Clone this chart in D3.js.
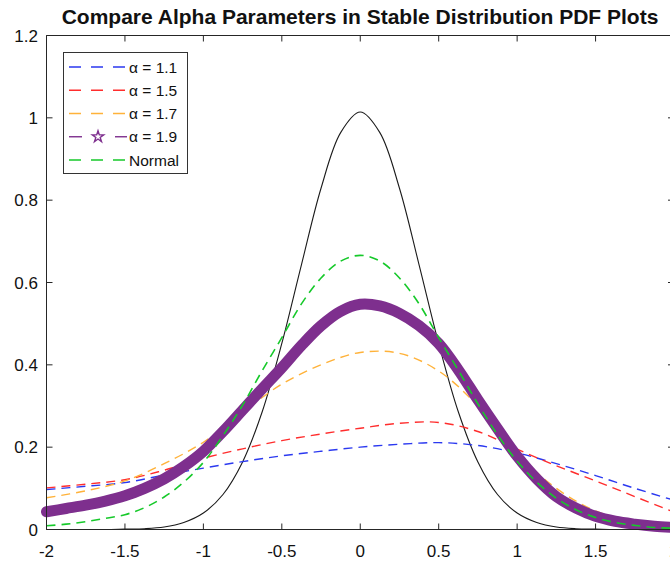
<!DOCTYPE html>
<html>
<head>
<meta charset="utf-8">
<script src="https://cdn.jsdelivr.net/npm/d3@7.9.0/dist/d3.min.js"></script>
<style>
  body { margin: 0; background: #fff; }
  svg { display: block; font-family: "Liberation Sans", Arial, sans-serif; }
</style>
</head>
<body>
<svg id="chart" width="670" height="563"></svg>
<script>
// coarse grid for the flat dashed curves, fine grid for the peaked ones
const xs = [-2, -1.75, -1.5, -1.25, -1, -0.75, -0.5, -0.25, 0, 0.25, 0.5, 0.75, 1, 1.25, 1.5, 1.75, 2];
const xsFine = [-2, -1.875, -1.75, -1.625, -1.5, -1.375, -1.25, -1.125, -1, -0.875, -0.75, -0.625, -0.5, -0.375, -0.25, -0.125,
  0, 0.125, 0.25, 0.375, 0.5, 0.625, 0.75, 0.875, 1, 1.125, 1.25, 1.375, 1.5, 1.625, 1.75, 1.875, 2];

const alpha11 = [0.097, 0.105, 0.114, 0.132, 0.149, 0.165, 0.179, 0.190, 0.200, 0.207, 0.211, 0.204, 0.186, 0.160, 0.131, 0.100, 0.071];
const alpha15 = [0.101, 0.110, 0.121, 0.144, 0.173, 0.196, 0.216, 0.232, 0.246, 0.258, 0.260, 0.238, 0.195, 0.155, 0.118, 0.080, 0.042];
const alpha17 = [0.077, 0.094, 0.118, 0.160, 0.212, 0.285, 0.353, 0.400, 0.430, 0.428, 0.385, 0.300, 0.185, 0.100, 0.045, 0.018, 0.006];
const alpha19 = [0.043, 0.051, 0.059, 0.069, 0.082, 0.100, 0.123, 0.153, 0.190, 0.238, 0.290, 0.342, 0.393, 0.447, 0.495, 0.530,
  0.547, 0.543, 0.525, 0.495, 0.452, 0.388, 0.315, 0.245, 0.178, 0.123, 0.080, 0.052, 0.032, 0.020, 0.013, 0.008, 0.005];
const normal = [0.009, 0.013, 0.019, 0.027, 0.036, 0.053, 0.079, 0.115, 0.163, 0.228, 0.302, 0.386, 0.466, 0.548, 0.611, 0.652,
  0.666, 0.652, 0.611, 0.548, 0.466, 0.387, 0.305, 0.230, 0.166, 0.115, 0.076, 0.048, 0.029, 0.017, 0.010, 0.005, 0.003];
const stdNormalRef = [0, 0, 0, 0, 0.001, 0.002, 0.006, 0.017, 0.040, 0.085, 0.164, 0.286, 0.452, 0.643, 0.829, 0.964,
  1.014, 0.964, 0.829, 0.643, 0.452, 0.286, 0.164, 0.085, 0.040, 0.017, 0.006, 0.002, 0.001, 0, 0, 0, 0];

const xTicks = [-2, -1.5, -1, -0.5, 0, 0.5, 1, 1.5, 2];
const yTicks = [0, 0.2, 0.4, 0.6, 0.8, 1, 1.2];

const series = [
  { label: 'α = 1.1', grid: xs, values: alpha11, color: '#2b39f0', width: 1.4, dash: '9,6' },
  { label: 'α = 1.5', grid: xs, values: alpha15, color: '#ff2d2d', width: 1.4, dash: '9,6' },
  { label: 'α = 1.7', grid: xs, values: alpha17, color: '#ffb23a', width: 1.4, dash: '9,6' },
  { label: 'α = 1.9', grid: xsFine, values: alpha19, color: '#7e2f8e', width: 11, dash: null, star: true },
  { label: 'Normal', grid: xsFine, values: normal, color: '#16c92a', width: 1.6, dash: '9,6' },
];

const svg = d3.select('#chart');
const x = d3.scaleLinear().domain([-2, 2]).range([46.5, 674]);
const y = d3.scaleLinear().domain([0, 1.2]).range([529.5, 35.5]);

const lineFor = grid => d3.line()
  .x((d, i) => x(grid[i]))
  .y(d => y(d))
  .curve(d3.curveCatmullRom.alpha(0.5));

// black reference curve first, underneath
svg.append('path')
  .datum(stdNormalRef)
  .attr('d', lineFor(xsFine))
  .attr('fill', 'none')
  .attr('stroke', '#1a1a1a')
  .attr('stroke-width', 1.1);

series.forEach(s => {
  svg.append('path')
    .datum(s.values)
    .attr('d', lineFor(s.grid))
    .attr('fill', 'none')
    .attr('stroke', s.color)
    .attr('stroke-width', s.width)
    .attr('stroke-linecap', s.star ? 'round' : 'butt')
    .attr('stroke-linejoin', 'round')
    .attr('stroke-dasharray', s.dash);
});

// axes box with inward ticks
const frame = svg.append('g').attr('stroke', '#262626').attr('stroke-width', 1).attr('fill', 'none');
frame.append('line').attr('x1', x(-2)).attr('x2', x(2)).attr('y1', y(0)).attr('y2', y(0));
frame.append('line').attr('x1', x(-2)).attr('x2', x(2)).attr('y1', y(1.2)).attr('y2', y(1.2));
frame.append('line').attr('x1', x(-2)).attr('x2', x(-2)).attr('y1', y(0)).attr('y2', y(1.2));
frame.append('line').attr('x1', x(2)).attr('x2', x(2)).attr('y1', y(0)).attr('y2', y(1.2));

xTicks.forEach(t => {
  frame.append('line').attr('x1', x(t)).attr('x2', x(t)).attr('y1', y(0)).attr('y2', y(0) - 6);
  frame.append('line').attr('x1', x(t)).attr('x2', x(t)).attr('y1', y(1.2)).attr('y2', y(1.2) + 6);
});
yTicks.forEach(t => {
  frame.append('line').attr('x1', x(-2)).attr('x2', x(-2) + 6).attr('y1', y(t)).attr('y2', y(t));
  frame.append('line').attr('x1', x(2)).attr('x2', x(2) - 6).attr('y1', y(t)).attr('y2', y(t));
});

svg.append('g').selectAll('text').data(xTicks).join('text')
  .attr('x', d => x(d))
  .attr('y', 557)
  .attr('text-anchor', 'middle')
  .attr('font-size', 17)
  .attr('fill', '#111')
  .text(d => d);

svg.append('g').selectAll('text').data(yTicks).join('text')
  .attr('x', 38)
  .attr('y', d => y(d) + 6)
  .attr('text-anchor', 'end')
  .attr('font-size', 17)
  .attr('fill', '#111')
  .text(d => d);

svg.append('text')
  .attr('x', 360)
  .attr('y', 24)
  .attr('text-anchor', 'middle')
  .attr('font-size', 21)
  .attr('font-weight', 'bold')
  .attr('fill', '#111')
  .text('Compare Alpha Parameters in Stable Distribution PDF Plots');

// legend
const lg = svg.append('g');
lg.append('rect')
  .attr('x', 63.5).attr('y', 52.5).attr('width', 124).attr('height', 121)
  .attr('fill', '#fff').attr('stroke', '#333').attr('stroke-width', 1);

const rowY = d3.scaleLinear().domain([0, 4]).range([67, 160]);
const star = d3.symbol().type(d3.symbolStar).size(40);

series.forEach((s, i) => {
  const yy = rowY(i);
  if (s.star) {
    lg.append('line').attr('x1', 69).attr('x2', 82).attr('y1', yy).attr('y2', yy)
      .attr('stroke', s.color).attr('stroke-width', 1.4);
    lg.append('line').attr('x1', 115).attr('x2', 127).attr('y1', yy).attr('y2', yy)
      .attr('stroke', s.color).attr('stroke-width', 1.4);
    lg.append('path').attr('d', star)
      .attr('transform', `translate(98,${yy})`)
      .attr('fill', 'none').attr('stroke', s.color).attr('stroke-width', 1.4);
  } else {
    lg.append('line').attr('x1', 69).attr('x2', 127).attr('y1', yy).attr('y2', yy)
      .attr('stroke', s.color).attr('stroke-width', 1.4)
      .attr('stroke-dasharray', '12,10');
  }
  lg.append('text')
    .attr('x', 129).attr('y', yy + 5.5)
    .attr('font-size', 15.5)
    .attr('fill', '#111')
    .text(s.label);
});
</script>
</body>
</html>
